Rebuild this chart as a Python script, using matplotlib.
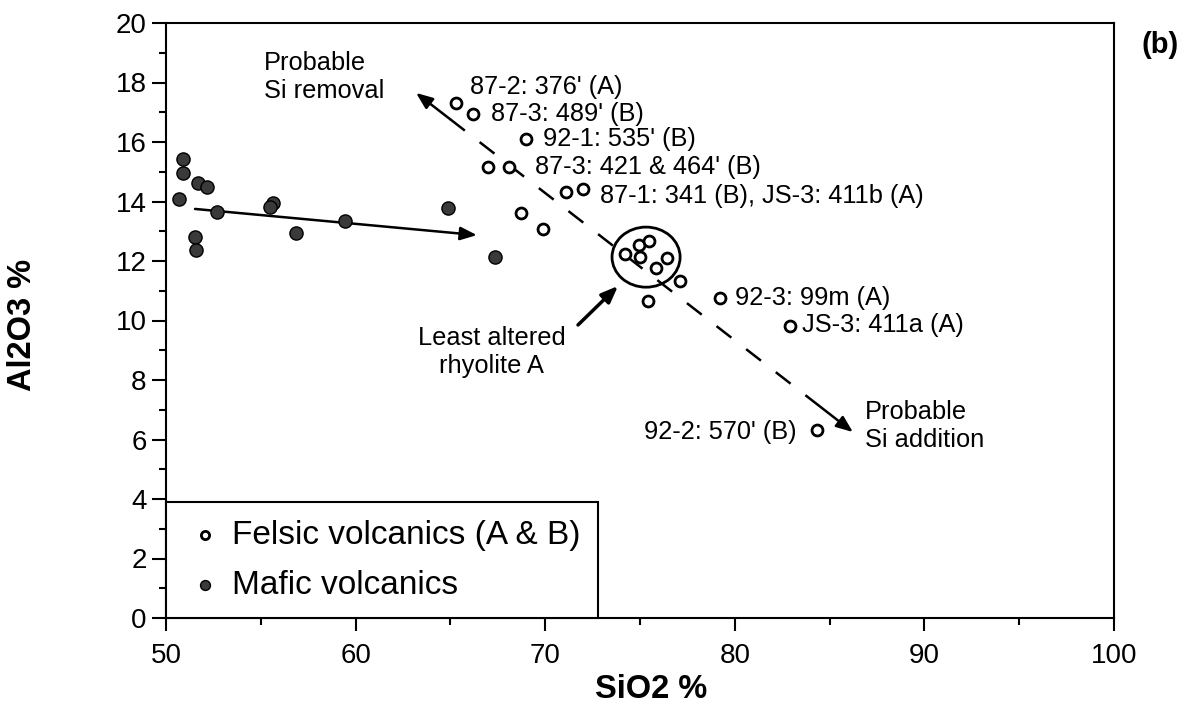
import matplotlib
matplotlib.use("Agg")
import matplotlib.pyplot as plt
from matplotlib.patches import Ellipse
from matplotlib.ticker import MultipleLocator

plt.rcParams['font.family'] = ['Liberation Sans', 'DejaVu Sans']

# Felsic volcanics (A & B)
felsic_sio2 = [65.3, 66.2, 69.0, 67.0, 68.1, 71.1, 72.0, 68.7, 69.9,
               74.2, 74.95, 75.45, 75.0, 76.4, 75.85, 77.1, 75.4, 79.2, 82.9, 84.35]
felsic_al2o3 = [17.31, 16.94, 16.10, 15.16, 15.16, 14.32, 14.42, 13.61, 13.08,
                12.24, 12.54, 12.67, 12.13, 12.10, 11.76, 11.33, 10.66, 10.76, 9.82, 6.32]

# Mafic volcanics
mafic_sio2 = [50.9, 50.9, 51.7, 52.15, 50.7, 52.7, 55.65, 55.5, 56.85, 59.45, 64.85,
              51.55, 51.6, 67.35]
mafic_al2o3 = [15.43, 14.96, 14.62, 14.49, 14.08, 13.65, 13.95, 13.82, 12.94, 13.34, 13.78,
               12.81, 12.37, 12.13]

# Sample labels: (text, x, y, ha)
sample_labels = [
    ("87-2: 376' (A)", 66.03, 17.85, 'left'),
    ("87-3: 489' (B)", 67.14, 16.94, 'left'),
    ("92-1: 535' (B)", 69.88, 16.10, 'left'),
    ("87-3: 421 & 464' (B)", 69.46, 15.16, 'left'),
    ("87-1: 341 (B), JS-3: 411b (A)", 72.89, 14.18, 'left'),
    ("92-3: 99m (A)", 80.01, 10.76, 'left'),
    ("JS-3: 411a (A)", 83.54, 9.85, 'left'),
    ("92-2: 570' (B)", 83.28, 6.25, 'right'),
]

fig = plt.figure(figsize=(11.88, 7.24), dpi=100)
ax = fig.add_axes([166/1188, 1-618/724, (1114-166)/1188, (618-23)/724])

ax.set_xlim(50, 100)
ax.set_ylim(0, 20)

ax.scatter(felsic_sio2, felsic_al2o3, s=62, facecolor='white', edgecolor='black',
           linewidth=2.0, zorder=4, label='Felsic volcanics (A & B)')
ax.scatter(mafic_sio2, mafic_al2o3, s=90, facecolor='#3a3a3a', edgecolor='black',
           linewidth=1.0, zorder=4, label='Mafic volcanics')

for txt, x, y, ha in sample_labels:
    ax.text(x, y, txt, fontsize=18.3, ha=ha, va='center', zorder=5)

# dashed trend line
ax.plot([64.98, 84.39], [16.77, 7.16], color='black', lw=1.8,
        linestyle=(0, (7.5, 7.5)), zorder=2)
head = dict(arrowstyle='-|>,head_length=1.0,head_width=0.4', color='black', lw=1.8,
            shrinkA=0, shrinkB=0)
ax.annotate('', xy=(63.19, 17.65), xytext=(64.98, 16.77), arrowprops=head)
ax.annotate('', xy=(86.23, 6.25), xytext=(84.39, 7.16), arrowprops=head)
# mafic trend arrow
ax.annotate('', xy=(66.4, 12.87), xytext=(51.53, 13.75), arrowprops=head)
# least altered arrow
ax.annotate('', xy=(73.84, 11.16), xytext=(71.73, 9.85),
            arrowprops=dict(arrowstyle='-|>,head_length=1.0,head_width=0.4',
                            color='black', lw=2.5, shrinkA=0, shrinkB=0))

ax.add_patch(Ellipse((75.32, 12.13), 3.59, 2.02, fill=False, edgecolor='black',
                     lw=2.0, zorder=3))

ax.text(55.17, 18.18, "Probable\nSi removal", fontsize=18.3, ha='left', va='center',
        linespacing=1.2)
ax.text(86.87, 6.45, "Probable\nSi addition", fontsize=18.3, ha='left', va='center',
        linespacing=1.2)
ax.text(67.19, 8.94, "Least altered\nrhyolite A", fontsize=18.3, ha='center', va='center',
        linespacing=1.2)

ax.xaxis.set_major_locator(MultipleLocator(10))
ax.xaxis.set_minor_locator(MultipleLocator(5))
ax.yaxis.set_major_locator(MultipleLocator(2))
ax.yaxis.set_minor_locator(MultipleLocator(1))
ax.tick_params(axis='both', which='both', direction='out', top=False, right=False,
               labelsize=20, width=1.5)
ax.tick_params(axis='x', which='major', length=9, pad=9)
ax.tick_params(axis='x', which='minor', length=5)
ax.tick_params(axis='y', which='major', length=10, pad=4)
ax.tick_params(axis='y', which='minor', length=5)
for sp in ax.spines.values():
    sp.set_linewidth(1.5)

leg = ax.legend(loc='lower left', bbox_to_anchor=(0, 0), borderaxespad=0,
                fontsize=24, frameon=True, fancybox=False, edgecolor='black',
                framealpha=1, borderpad=0.52, handlelength=1.3, handletextpad=0.15,
                labelspacing=0.57, markerscale=0.75)
leg.get_frame().set_linewidth(1.5)
leg.set_zorder(6)

fig.text(651/1188, 1-690/724, 'SiO2 %', ha='center', va='center', fontsize=23.5,
         fontweight='bold')
fig.text(23/1188, 1-325/724, 'Al2O3 %', ha='center', va='center', fontsize=23.5,
         fontweight='bold', rotation=90)
fig.text(1160/1188, 1-45/724, '(b)', ha='center', va='center', fontsize=21,
         fontweight='bold')

fig.savefig('out.png', dpi=100)
